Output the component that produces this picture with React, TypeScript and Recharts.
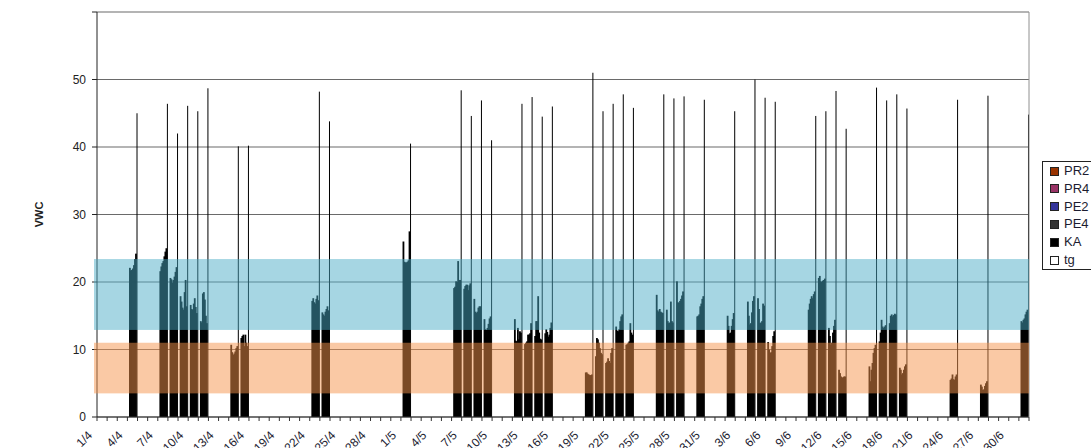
import React from 'react';
import { BarChart, Bar, XAxis, YAxis, CartesianGrid, ReferenceArea } from 'recharts';

// ---- data ----
const DAY_COUNT = 92; // 1/4 .. 1/7
const SLOTS_PER_DAY = 10;

const tickLabels = [
  '1/4', '4/4', '7/4', '10/4', '13/4', '16/4', '19/4', '22/4', '25/4', '28/4',
  '1/5', '4/5', '7/5', '10/5', '13/5', '16/5', '19/5', '22/5', '25/5', '28/5', '31/5',
  '3/6', '6/6', '9/6', '12/6', '15/6', '18/6', '21/6', '24/6', '27/6', '30/6',
];

const yTicks = [0, 10, 20, 30, 40, 50, 60];

const measuredDays = [
  3, 6, 7, 8, 9, 10, 13, 14, 21, 22, 30, 35, 36, 37, 38, 41, 42, 43, 44,
  48, 49, 50, 51, 52, 55, 56, 57, 59, 62, 64, 65, 66, 70, 71, 72, 73,
  76, 77, 78, 79, 84, 87, 91,
];

const peakValues = [
  45.0, 46.4, 42.0, 46.1, 45.3, 48.7, 40.1, 40.2, 48.2, 43.8, 40.5, 48.4, 44.6, 46.9, 41.0,
  46.4, 47.4, 44.5, 46.0, 51.0, 45.3, 46.4, 47.8, 45.8, 47.8, 47.2, 47.5, 47.0, 45.3,
  50.0, 47.3, 46.7, 44.6, 45.3, 48.3, 42.7, 48.8, 46.9, 47.8, 45.7, 47.0, 47.6, 44.8,
];

const dailyReadings = [
  [22.1, 21.7, 21.8, 22.0, 22.5, 23.4, 24.2],
  [21.6, 22.3, 22.8, 23.1, 23.8, 24.5, 25.0],
  [20.6, 20.4, 19.9, 20.3, 20.8, 21.5, 22.2],
  [17.9, 17.1, 16.2, 15.9, 18.5, 20.3, 16.4],
  [16.6, 16.0, 15.9, 16.8, 17.6, 16.3, 15.4],
  [14.2, 14.0, 18.3, 18.5, 17.4, 15.0, 13.9],
  [10.7, 9.6, 9.2, 9.4, 9.7, 10.2, 10.5],
  [11.7, 12.0, 12.2, 10.5, 12.2, 11.0, 10.5],
  [17.2, 17.6, 17.0, 16.8, 17.5, 18.0, 17.3],
  [15.5, 15.2, 15.0, 15.6, 16.0, 16.4, 15.8],
  [26.0, 23.0, 22.9, 22.9, 23.0, 23.2, 27.5],
  [19.1, 19.3, 20.1, 20.0, 23.1, 20.3, 20.3],
  [19.0, 19.4, 19.6, 19.6, 18.8, 19.5, 19.8],
  [17.5, 15.6, 15.4, 15.6, 16.2, 16.4, 16.4],
  [14.5, 13.0, 12.9, 13.2, 13.8, 14.6, 14.9],
  [14.5, 11.3, 11.2, 13.2, 11.5, 12.7, 12.5],
  [10.8, 11.0, 11.2, 12.2, 12.2, 12.4, 13.9],
  [12.0, 14.2, 14.2, 17.9, 12.5, 11.6, 11.5],
  [12.4, 13.0, 12.6, 11.9, 12.2, 13.2, 14.0],
  [6.6, 6.6, 6.4, 6.3, 6.2, 6.2, 6.3],
  [9.0, 11.7, 11.5, 11.0, 10.2, 9.5, 9.3],
  [8.0, 8.2, 8.7, 8.3, 8.0, 9.5, 10.2],
  [13.4, 12.8, 12.7, 13.0, 14.2, 14.9, 15.2],
  [10.7, 10.8, 11.0, 11.2, 13.9, 12.5, 12.2],
  [18.1, 15.8, 15.6, 16.0, 15.6, 15.5, 15.4],
  [15.9, 14.2, 13.9, 14.0, 17.1, 14.2, 14.0],
  [20.1, 17.0, 16.9, 17.2, 17.5, 18.0, 18.6],
  [14.9, 15.0, 15.2, 16.4, 16.8, 17.5, 17.9],
  [15.0, 13.5, 12.4, 12.5, 13.5, 14.5, 15.4],
  [17.1, 15.0, 13.7, 13.9, 15.5, 17.2, 17.9],
  [17.6, 16.0, 13.9, 14.0, 14.2, 16.8, 16.5],
  [11.1, 10.0, 9.5, 9.6, 10.5, 12.0, 12.7],
  [15.9, 16.8, 17.5, 17.9, 17.6, 18.2, 18.6],
  [20.6, 20.9, 20.1, 20.0, 20.2, 20.3, 20.5],
  [13.2, 12.0, 10.7, 11.0, 12.5, 13.5, 14.4],
  [7.0, 6.5, 6.0, 5.8, 5.9, 6.0, 6.0],
  [7.5, 5.3, 7.0, 8.0, 9.5, 10.2, 10.7],
  [11.2, 12.5, 14.4, 13.4, 13.2, 13.4, 13.6],
  [13.9, 15.0, 15.2, 14.9, 15.1, 15.3, 15.2],
  [7.3, 7.0, 6.3, 6.5, 7.0, 7.5, 7.8],
  [5.5, 5.7, 6.3, 5.6, 5.5, 6.0, 6.3],
  [4.8, 4.5, 4.0, 4.1, 4.6, 5.0, 5.3],
  [14.2, 14.0, 14.4, 14.6, 15.2, 15.6, 15.9],
];

const bandDry = [3.5, 11];
const bandWet = [12.9, 23.4];

const legendItems = [
  { name: 'PR2', color: '#993300' },
  { name: 'PR4', color: '#993366' },
  { name: 'PE2', color: '#333399' },
  { name: 'PE4', color: '#333333' },
  { name: 'KA', color: '#000000' },
  { name: 'tg', color: '#ffffff' },
];

// ---- build table ----
type Row = { slot: number; KA: number | null };
const rows: Row[] = [];
for (let d = 0; d < DAY_COUNT; d++) {
  for (let s = 0; s < SLOTS_PER_DAY; s++) rows.push({ slot: d * SLOTS_PER_DAY + s, KA: null });
}
measuredDays.forEach((d, i) => {
  const base = d * SLOTS_PER_DAY;
  dailyReadings[i].forEach((v, k) => {
    rows[base + 2 + k].KA = v;
  });
  rows[base + 9].KA = peakValues[i];
});

const LAST_SLOT = DAY_COUNT * SLOTS_PER_DAY - 1;
const dayStartTicks: number[] = [];
for (let d = 0; d < DAY_COUNT; d++) dayStartTicks.push(d * SLOTS_PER_DAY);
dayStartTicks.push(LAST_SLOT);

// ---- layout ----
const W = 1091;
const H = 448;
const PLOT_LEFT = 97;
const PLOT_RIGHT = 1029;
const PLOT_TOP = 12;
const X_AXIS_H = 31;
const AXIS_Y = H - X_AXIS_H;
const SLOT_W = (PLOT_RIGHT - PLOT_LEFT) / (DAY_COUNT * SLOTS_PER_DAY);
const FONT = '"Liberation Sans", Arial, sans-serif';

const DayTick = (props: any) => {
  const { x, payload } = props;
  const slot = payload.value as number;
  const bx = slot === LAST_SLOT ? x + SLOT_W / 2 : x - SLOT_W / 2;
  const d = Math.round(slot / SLOTS_PER_DAY);
  const label = slot !== LAST_SLOT && d % 3 === 0 ? tickLabels[d / 3] : null;
  const ax = bx - 4;
  const ay = AXIS_Y + 19;
  return (
    <g>
      <line x1={bx} x2={bx} y1={AXIS_Y} y2={AXIS_Y + 4} stroke="#333" strokeWidth={1} />
      {label && (
        <text
          x={ax}
          y={ay}
          transform={`rotate(-45 ${ax} ${ay})`}
          textAnchor="end"
          fontSize={12}
          fontFamily={FONT}
          fill="#1c1c30"
        >
          {label}
        </text>
      )}
    </g>
  );
};

const SlotBar = (props: any) => {
  const { x, y, width, height, payload } = props;
  if (!payload || payload.KA == null || !(height > 0)) return null;
  const isPeak = payload.slot % SLOTS_PER_DAY === SLOTS_PER_DAY - 1;
  if (isPeak) return <rect x={x} y={y} width={width} height={height} fill="#000" />;
  return <rect x={x - 0.4} y={y} width={width + 0.8} height={height} fill="#000" />;
};

const BandShape = (color: string, opacity: number) => (props: any) => {
  const { x, y, width, height } = props;
  return <rect x={x - 3} y={y} width={width + 3} height={height} fill={color} fillOpacity={opacity} stroke="none" />;
};

export default function App() {
  return (
    <div style={{ position: 'absolute', left: 0, top: 0, width: W, height: H, overflow: 'hidden', background: '#fff', fontFamily: FONT }}>
      <BarChart
        width={W}
        height={H}
        data={rows}
        margin={{ top: PLOT_TOP, right: 0, bottom: 0, left: 0 }}
        barCategoryGap={0}
        barGap={0}
      >
        <CartesianGrid vertical={false} stroke="#6a6a6a" strokeWidth={1.2} />
        <XAxis
          dataKey="slot"
          type="category"
          ticks={dayStartTicks}
          interval={0}
          tick={<DayTick />}
          tickLine={false}
          axisLine={{ stroke: '#333' }}
          height={X_AXIS_H}
        />
        <YAxis
          domain={[0, 60]}
          ticks={yTicks}
          interval={0}
          width={PLOT_LEFT}
          tickSize={5}
          tickMargin={6}
          tickFormatter={(v: number) => (v === 60 ? '' : String(v))}
          tick={{ fontSize: 12, fill: '#222', fontFamily: FONT }}
          tickLine={{ stroke: '#222' }}
          axisLine={{ stroke: '#222' }}
          label={{ value: 'VWC', angle: -90, position: 'insideLeft', dx: 34, style: { fontSize: 11, fontWeight: 'bold', fill: '#222', fontFamily: FONT, textAnchor: 'middle' } }}
        />
        <YAxis
          yAxisId="frame"
          orientation="right"
          domain={[0, 60]}
          width={W - PLOT_RIGHT}
          tick={false}
          tickLine={false}
          axisLine={{ stroke: '#909090' }}
        />
        <Bar dataKey="KA" fill="#000" barSize={1} shape={<SlotBar />} isAnimationActive={false} />
        <ReferenceArea y1={bandWet[0]} y2={bandWet[1]} shape={BandShape('#49ACC6', 0.49)} zIndex={1000} ifOverflow="visible" />
        <ReferenceArea y1={bandDry[0]} y2={bandDry[1]} shape={BandShape('#F5944C', 0.5)} zIndex={1000} ifOverflow="visible" />
      </BarChart>
      <div
        style={{
          position: 'absolute',
          left: 1042,
          top: 161,
          width: 70,
          height: 107,
          border: '1px solid #222',
          background: '#fff',
          fontSize: 13,
          color: '#1c1c30',
        }}
      >
        {legendItems.map((it, i) => (
          <div key={it.name} style={{ position: 'absolute', left: 7, top: 9 + i * 17.8 - 8, height: 16, display: 'flex', alignItems: 'center' }}>
            <span style={{ display: 'inline-block', width: 7, height: 7, background: it.color, border: '1px solid #222', marginRight: 5 }} />
            <span style={{ lineHeight: '16px' }}>{it.name}</span>
          </div>
        ))}
      </div>
    </div>
  );
}
